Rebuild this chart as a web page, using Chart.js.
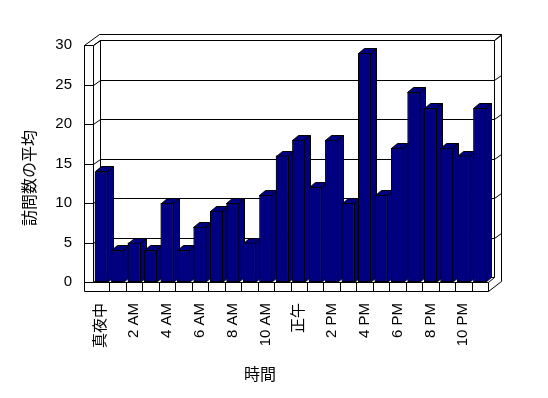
<!DOCTYPE html>
<html><head><meta charset="utf-8">
<script src="https://cdn.jsdelivr.net/npm/chart.js@4/dist/chart.umd.min.js"></script>
<style>html,body{margin:0;padding:0;background:#fff}#wrap{width:548px;height:398px}</style>
</head><body><div id="wrap"><canvas id="c" width="548" height="398"></canvas></div>
<script>
const hours = ['真夜中','1 AM','2 AM','3 AM','4 AM','5 AM','6 AM','7 AM','8 AM','9 AM','10 AM','11 AM',
  '正午','1 PM','2 PM','3 PM','4 PM','5 PM','6 PM','7 PM','8 PM','9 PM','10 PM','11 PM'];
const visits = [14,4,5,4,10,4,7,9,10,5,11,16,18,12,18,10,29,11,17,24,22,17,16,22];
const yTicks = [0,5,10,15,20,25,30];
const xTitle = '時間';
const yTitle = '訪問数の平均';

const FONT = "'Liberation Sans', Arial, 'Noto Sans CJK JP', sans-serif";
const NAVY = '#000080';
const DX = 7, DY = -5;      // inner depth offset
const WALL = 9;             // wall thickness
const ODX = 15, ODY = -11;  // outer depth offset

function P(v){ return Math.round(v) + 0.5; }
function line(ctx, x1, y1, x2, y2){
  ctx.beginPath(); ctx.moveTo(P(x1), P(y1)); ctx.lineTo(P(x2), P(y2)); ctx.stroke();
}
function poly(ctx, pts){
  ctx.beginPath();
  pts.forEach((p, i) => i ? ctx.lineTo(P(p[0]), P(p[1])) : ctx.moveTo(P(p[0]), P(p[1])));
  ctx.closePath(); ctx.fill(); ctx.stroke();
}

const frame3d = {
  id: 'frame3d',
  beforeDatasetsDraw(chart){
    const ctx = chart.ctx, ys = chart.scales.y, xs = chart.scales.x;
    const L = chart.chartArea.left, R = chart.chartArea.right;
    const T = ys.getPixelForValue(yTicks[yTicks.length-1]), B = ys.getPixelForValue(0);
    ctx.save();
    ctx.strokeStyle = '#000'; ctx.lineWidth = 1;
    const OL = L - WALL, FB = B + WALL;
    // left wall front face
    line(ctx, OL, T, OL, FB);
    line(ctx, L, T, L, B);
    line(ctx, OL, T, L, T);
    // floor front face
    line(ctx, OL, FB, R, FB);
    line(ctx, L, B, R, B);
    line(ctx, R, B, R, FB);
    for (let i = 1; i < hours.length; i++){
      const bx = (xs.getPixelForValue(i-1) + xs.getPixelForValue(i)) / 2;
      line(ctx, bx, B, bx, FB);
    }
    // top edges
    line(ctx, OL, T, OL + ODX, T + ODY);
    line(ctx, L, T, L + DX, T + DY);
    line(ctx, OL + ODX, T + ODY, R + ODX - 2, T + ODY);
    line(ctx, R + DX - 1, T + DY, R + ODX - 2, T + ODY);
    // back wall edges
    line(ctx, L + DX, T + DY, L + DX, B + DY);
    line(ctx, R + DX - 1, T + DY, R + DX - 1, B + DY);
    line(ctx, R + ODX - 2, T + ODY, R + ODX - 2, FB + ODY + 1);
    line(ctx, R, FB, R + ODX - 2, FB + ODY + 1);
    line(ctx, R, B, R + DX - 1, B + DY);
    // grid lines
    yTicks.forEach(v => {
      const y = ys.getPixelForValue(v);
      line(ctx, OL, y, L, y);
      line(ctx, L, y, L + DX, y + DY);
      line(ctx, L + DX, y + DY, R + DX - 1, y + DY);
      if (v > 0) line(ctx, R + DX - 1, y + DY, R + ODX - 2, y + ODY + 1);
    });
    ctx.restore();
  },
  afterDatasetsDraw(chart){
    const ctx = chart.ctx;
    const meta = chart.getDatasetMeta(0);
    ctx.save();
    ctx.strokeStyle = '#000'; ctx.lineWidth = 1; ctx.fillStyle = NAVY;
    meta.data.forEach(el => {
      const p = el.getProps(['x','y','base','width'], true);
      const l = p.x - p.width/2, r = p.x + p.width/2 - 1, t = p.y, b = p.base;
      poly(ctx, [[l,t],[l+DX-1,t+DY],[r+DX-1,t+DY],[r,t]]);
      poly(ctx, [[r,t],[r+DX-1,t+DY],[r+DX-1,b+DY],[r,b]]);
      el.draw(ctx, chart.chartArea);
    });
    ctx.restore();
  },
  afterDraw(chart){
    const ctx = chart.ctx;
    ctx.save();
    ctx.fillStyle = '#000';
    ctx.textAlign = 'center'; ctx.textBaseline = 'middle';
    ctx.font = "16px " + FONT;
    ctx.fillText(xTitle, 260, 376);
    ctx.translate(31, 178);
    ctx.rotate(-Math.PI/2);
    ctx.fillText(yTitle, 0, 0);
    ctx.restore();
  }
};

new Chart(document.getElementById('c'), {
  type: 'bar',
  data: {
    labels: hours,
    datasets: [{
      data: visits,
      backgroundColor: NAVY,
      borderColor: '#000',
      borderWidth: 1,
      borderSkipped: false,
      barPercentage: 0.79,
      categoryPercentage: 1
    }]
  },
  options: {
    responsive: false,
    animation: false,
    devicePixelRatio: 1,
    layout: { padding: { left: 0, right: 60, top: 45, bottom: 0 } },
    plugins: { legend: { display: false }, tooltip: { enabled: false }, title: { display: false } },
    scales: {
      x: {
        grid: { display: false, drawTicks: false },
        border: { display: false },
        afterFit(s){ s.height = 116; },
        ticks: {
          autoSkip: false, minRotation: 90, maxRotation: 90, padding: 21,
          color: '#000', font: { family: FONT, size: 15 },
          callback(v, i){ return i % 2 === 0 ? hours[i] : ''; }
        }
      },
      y: {
        min: 0, max: 30,
        grid: { display: false, drawTicks: false },
        border: { display: false },
        afterFit(s){ s.width = 93; },
        afterBuildTicks(s){ s.ticks = yTicks.map(v => ({ value: v })); },
        ticks: { padding: 21, color: '#000', font: { family: FONT, size: 15 } }
      }
    }
  },
  plugins: [frame3d]
});
</script>
</body></html>
